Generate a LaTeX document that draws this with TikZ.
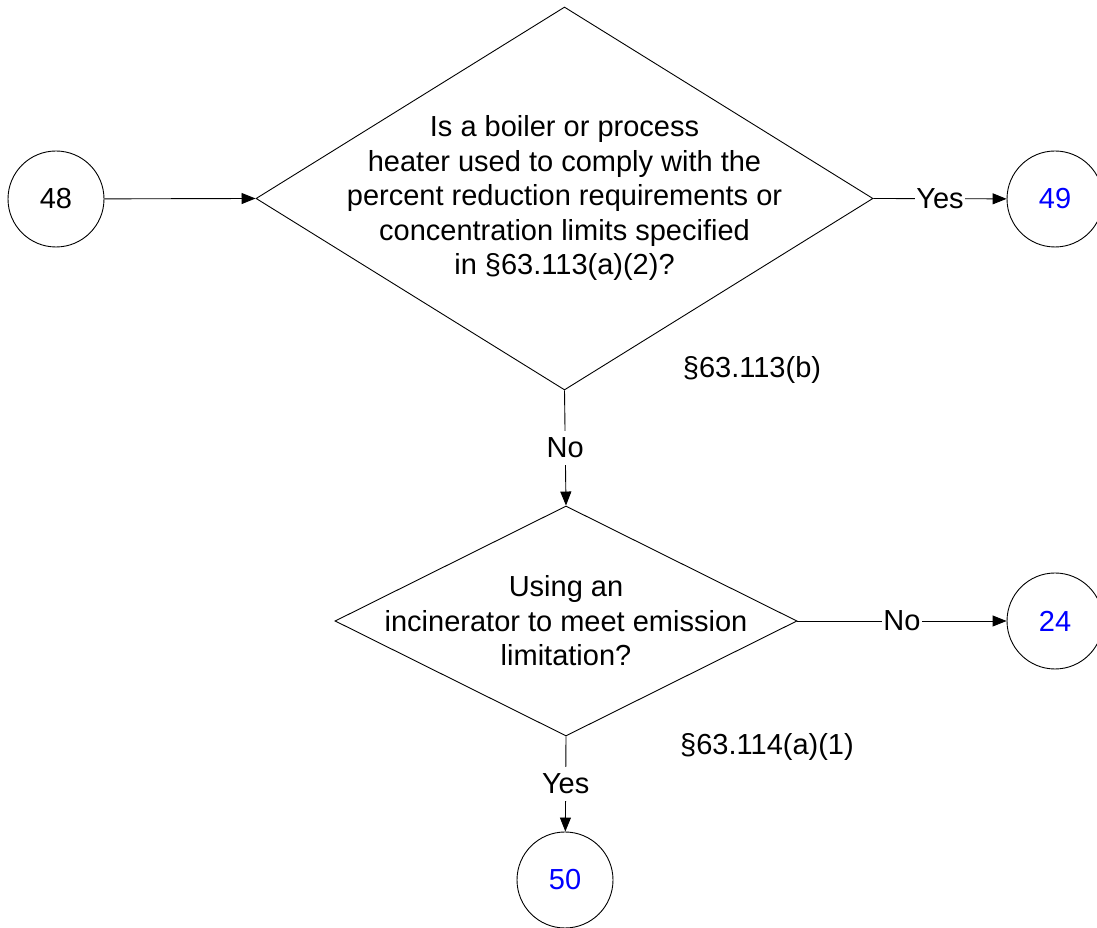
\documentclass[tikz,border=0pt]{standalone}
\usepackage{fontspec}
\setmainfont{Liberation Sans}
\usetikzlibrary{arrows.meta, shapes.geometric, positioning}

\begin{document}
\begin{tikzpicture}[x=1pt, y=1pt, line width=0.9pt,
	every node/.style={font=\fontsize{29}{34.5}\selectfont},
	conn/.style={circle, draw, minimum size=96pt, inner sep=0pt},
	decision/.style={diamond, draw, inner sep=0pt},
	qtext/.style={align=center},
	answer/.style={fill=white, inner xsep=1pt, inner ysep=7pt},
	flow/.style={-{Triangle[length=14pt, width=11pt]}}]
	\useasboundingbox (0,0) rectangle (1097,928);
	
	% Off-page connectors
	\node[conn] (c48) at (56,729) {48};
	\node[conn, text=blue] (c49) at (1055,729) {49};
	\node[conn, text=blue] (c24) at (1055,307) {24};
	\node[conn, text=blue] (c50) at (565,48) {50};
	
	% Decisions
	\node[decision, minimum width=617pt, minimum height=383pt] (q1) at (564.5,729.5) {};
	\node[qtext] (q1t) at (q1) {Is a boiler or process\\heater used to comply with the\\percent reduction requirements or\\concentration limits specified\\in §63.113(a)(2)?};
	
	\node[decision, minimum width=462pt, minimum height=230pt] (q2) at (566,307) {};
	\node[qtext] (q2t) at (q2) {Using an\\incinerator to meet emission\\limitation?};
	
	% Citations
	\node (ref1) at (752,558) {§63.113(b)};
	\node (ref2) at (767,181) {§63.114(a)(1)};
	
	% Flow lines
	\draw[flow] (c48) -- (q1.west);
	\draw[flow] (q1.east) -- node[answer] {Yes} (c49);
	\draw[flow] (q1.south) -- node[answer] {No} (q2.north);
	\draw[flow] (q2.east) -- node[answer] {No} (c24);
	\draw[flow] (q2.south) -- node[answer] {Yes} (c50);
\end{tikzpicture}
\end{document}
